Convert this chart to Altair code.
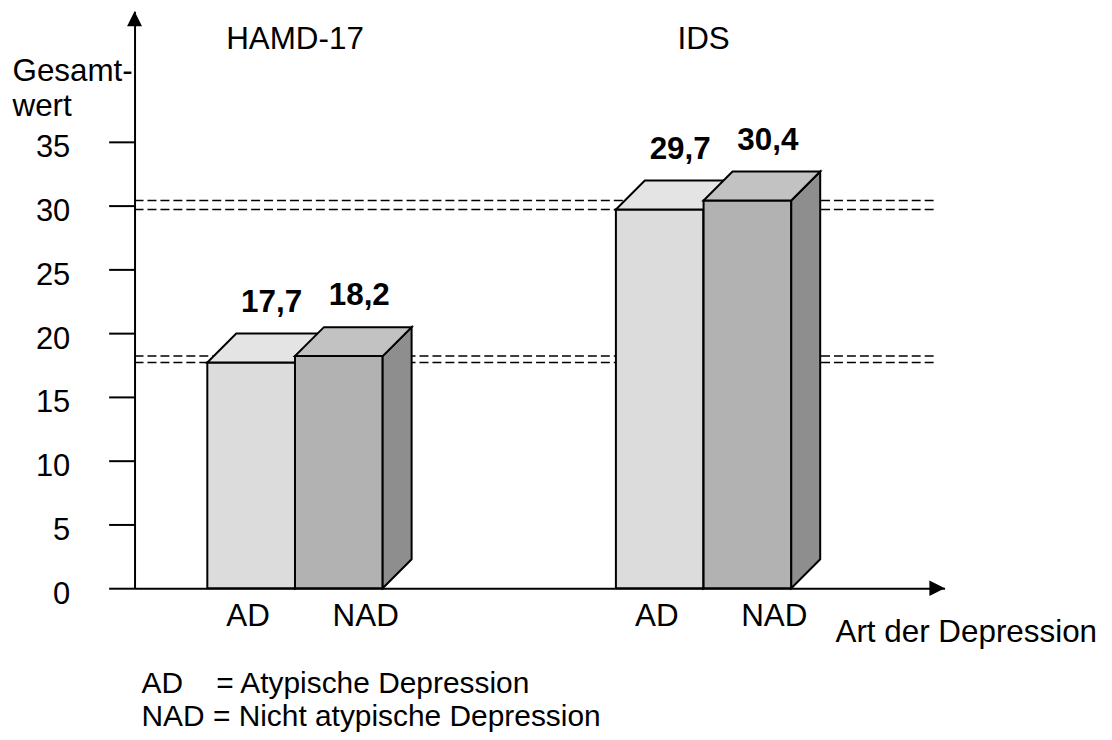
import altair as alt
import pandas as pd

# ---------------- data ----------------
groups = ["HAMD-17", "IDS"]
categories = ["AD", "NAD"]
hamd_values = [17.7, 18.2]
ids_values = [29.7, 30.4]
y_tick_values = [0, 5, 10, 15, 20, 25, 30, 35]
y_title_lines = ["Gesamt-", "wert"]
x_title = "Art der Depression"
legend_lines = ["AD\u00a0\u00a0\u00a0\u00a0= Atypische Depression",
                "NAD = Nicht atypische Depression"]

# ---------------- layout / style ----------------
FONT = "Liberation Sans"
FS = 31.5
W, H = 813, 579
X_MAX = W / 88.0          # x in bar-width units
Y_MAX = H / 12.8          # y in value units
GROUP_LEFT = {"HAMD-17": 0.83, "IDS": 5.49}
DX, DY = 0.33, 2.27       # 3D depth
DASH_END = 805 / 88.0

FRONT = {"AD": "#dcdcdc", "NAD": "#b2b2b2"}
TOP = {"AD": "#e4e4e4", "NAD": "#c2c2c2"}
SIDE = {"AD": "#9a9a9a", "NAD": "#8e8e8e"}
LABEL_DX = {"AD": -3, "NAD": 27}

rows = []
for g, vals in zip(groups, [hamd_values, ids_values]):
    for i, (c, v) in enumerate(zip(categories, vals)):
        left = GROUP_LEFT[g] + i
        rows.append({"group": g, "cat": c, "value": v, "left": left,
                     "right": left + 1, "zero": 0.0,
                     "lx": left + 0.5 + DX / 2, "cx": left + 0.5,
                     "label": f"{v:.1f}".replace(".", ","),
                     "bid": f"{g}-{c}", "dash0": 0.0, "dash1": DASH_END})
bars = pd.DataFrame(rows)

top_rows, side_rows = [], []
for r in rows:
    L, v, b, c = r["left"], r["value"], r["bid"], r["cat"]
    for x, y, y2 in [(L, v, v), (L + DX, v, v + DY), (L + 1, v, v + DY),
                     (L + 1 + DX, v + DY, v + DY)]:
        top_rows.append({"bid": b, "cat": c, "x": x, "y": y, "y2": y2})
    for x, y, y2 in [(L + 1, 0, v), (L + 1 + DX, DY, v + DY)]:
        side_rows.append({"bid": b, "cat": c, "x": x, "y": y, "y2": y2})
tops = pd.DataFrame(top_rows)
sides = pd.DataFrame(side_rows)

heads = pd.DataFrame({"group": groups,
                      "hx": [GROUP_LEFT[g] + 1 for g in groups],
                      "hy": [Y_MAX] * len(groups)})

xs = alt.Scale(domain=[0, X_MAX], nice=False, zero=False)
ys = alt.Scale(domain=[0, Y_MAX], nice=False, zero=False)

x_axis = alt.Axis(domain=True, domainColor="black", domainWidth=2,
                  ticks=False, labels=False, grid=False,
                  title=x_title, titleFont=FONT, titleFontSize=FS,
                  titleFontWeight="normal", titleColor="black",
                  titleX=703, titleY=53, titleAlign="left",
                  titleBaseline="alphabetic", titleAngle=0)
y_axis = alt.Axis(values=y_tick_values, format="d", domain=True,
                  domainColor="black", domainWidth=2, ticks=True,
                  tickSize=26, tickWidth=2, tickColor="black", grid=False,
                  labelFont=FONT, labelFontSize=31, labelColor="black",
                  labelPadding=39, labelOffset=6,
                  title=y_title_lines, titleAngle=0, titleX=-123, titleY=69,
                  titleAlign="left", titleBaseline="alphabetic",
                  titleFont=FONT, titleFontSize=FS, titleFontWeight="normal",
                  titleColor="black", titleLineHeight=36)


def X(f):
    return alt.X(f"{f}:Q", scale=xs, axis=x_axis)


def Y(f):
    return alt.Y(f"{f}:Q", scale=ys, axis=y_axis, stack=None)


layers = []

# dashed reference lines at bar values
layers.append(
    alt.Chart(bars).mark_rule(color="black", strokeWidth=1.5, strokeDash=[9, 4])
    .encode(x=X("dash0"), x2="dash1:Q", y=Y("value"))
)

for c in categories:
    layers.append(
        alt.Chart(bars).transform_filter(alt.datum.cat == c)
        .mark_rect(fill=FRONT[c], stroke="black", strokeWidth=2, opacity=1)
        .encode(x=X("left"), x2="right:Q", y=Y("zero"), y2="value:Q")
    )
    layers.append(
        alt.Chart(sides).transform_filter(alt.datum.cat == c)
        .mark_area(fill=SIDE[c], stroke="black", strokeWidth=2, opacity=1,
                   interpolate="linear")
        .encode(x=X("x"), y=Y("y"), y2="y2:Q", detail="bid:N")
    )
    layers.append(
        alt.Chart(tops).transform_filter(alt.datum.cat == c)
        .mark_area(fill=TOP[c], stroke="black", strokeWidth=2, opacity=1,
                   interpolate="linear")
        .encode(x=X("x"), y=Y("y"), y2="y2:Q", detail="bid:N")
    )

# value labels
layers.append(
    alt.Chart(bars).mark_text(font=FONT, fontSize=FS, fontWeight="bold",
                              color="black", align="center",
                              baseline="alphabetic", dx=6, dy=-51)
    .encode(x=X("lx"), y=Y("value"), text="label:N")
)

# category labels under the axis
for c in categories:
    layers.append(
        alt.Chart(bars).transform_filter(alt.datum.cat == c)
        .mark_text(font=FONT, fontSize=FS, color="black", align="center",
                   baseline="alphabetic", dx=LABEL_DX[c], dy=38)
        .encode(x=X("cx"), y=Y("zero"), text="cat:N")
    )

# group headers
layers.append(
    alt.Chart(heads).mark_text(font=FONT, fontSize=FS, color="black",
                               align="center", baseline="alphabetic", dy=38)
    .encode(x=X("hx"), y=Y("hy"), text="group:N")
)

# arrows
arr_y = pd.DataFrame({"ax": [0.0], "ay": [Y_MAX]})
arr_x = pd.DataFrame({"ax": [X_MAX], "ay": [0.0]})
layers.append(
    alt.Chart(arr_y).mark_point(shape="M0,-1L-1,1L1,1Z", size=225, filled=True,
                                fill="black", opacity=1, yOffset=7.5)
    .encode(x=X("ax"), y=Y("ay"))
)
layers.append(
    alt.Chart(arr_x).mark_point(shape="M1,0L-1,-1L-1,1Z", size=240, filled=True,
                                fill="black", opacity=1, xOffset=-7.5)
    .encode(x=X("ax"), y=Y("ay"))
)

# legend text
layers.append(
    alt.Chart(pd.DataFrame({"k": [0]})).mark_text(
        text=legend_lines, font=FONT, fontSize=30, color="black",
        align="left", baseline="alphabetic", lineHeight=33)
    .encode(x=alt.value(7), y=alt.value(684))
)

chart = (
    alt.layer(*layers)
    .properties(width=W, height=H,
                autosize=alt.AutoSizeParams(type="none"),
                padding={"left": 127, "top": 2, "right": 160, "bottom": 148},
                background="white")
    .configure_view(stroke=None)
)

chart.save("out.html", embed_options={"renderer": "svg", "actions": False})
